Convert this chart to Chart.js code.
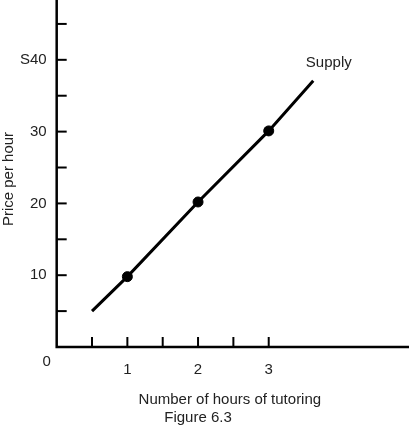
<!DOCTYPE html>
<html><head><script src="https://cdn.jsdelivr.net/npm/chart.js"></script>
<style>body{margin:0;background:#fff}#w{width:409px;height:433px;position:relative}</style></head>
<body><div id="w"><canvas id="c"></canvas></div>
<script>
const hours=[0.5,1,2,3,3.63];
const prices=[5,9.8,20.2,30.1,37.1];
const markedHours=[1,2,3];
const markedPrices=[9.8,20.2,30.1];
const xTickLabels={1:'1',2:'2',3:'3'};
const yTickLabels={10:'10',20:'20',30:'30',40:'S40'};
const F='"Liberation Sans", Arial, sans-serif';
const plugin={id:'extra',afterDraw(ch){const c=ch.ctx,x=ch.scales.x,y=ch.scales.y;
c.save();c.strokeStyle='#000';c.lineWidth=2.5;
c.beginPath();c.moveTo(x.left,0);c.lineTo(x.left,y.bottom);c.lineTo(409,y.bottom);c.stroke();
c.lineWidth=2;
for(let v=5;v<=45;v+=5){const p=y.getPixelForValue(v);c.beginPath();c.moveTo(x.left,p);c.lineTo(x.left+10,p);c.stroke();}
for(let v=0.5;v<=3;v+=0.5){const p=x.getPixelForValue(v);c.beginPath();c.moveTo(p,y.bottom);c.lineTo(p,y.bottom-10);c.stroke();}
c.fillStyle='#222';c.font='15px '+F;c.textAlign='center';c.textBaseline='middle';
c.fillText('Supply',x.getPixelForValue(3.85),y.getPixelForValue(39.6));
c.fillText('0',x.left-10,y.bottom+15);
c.fillText('Figure 6.3',x.getPixelForValue(2),418);
c.restore();}};
new Chart(document.getElementById('c'),{type:'scatter',
data:{datasets:[{data:hours.map((h,i)=>({x:h,y:prices[i]})),showLine:true,borderColor:'#000',borderWidth:3,pointRadius:0},
{data:markedHours.map((h,i)=>({x:h,y:markedPrices[i]})),pointRadius:5,pointBackgroundColor:'#000',pointBorderColor:'#000'}]},
options:{responsive:true,maintainAspectRatio:false,animation:false,
layout:{padding:{top:0,right:0,bottom:20,left:0}},
plugins:{legend:{display:false},tooltip:{enabled:false}},
scales:{x:{type:'linear',min:0,max:4.9,grid:{display:false},border:{display:false},
 afterBuildTicks(a){a.ticks=[1,2,3].map(v=>({value:v}));},
 ticks:{color:'#222',font:{family:F,size:15},padding:6,callback:v=>xTickLabels[v]||''},
 title:{display:true,text:'Number of hours of tutoring',color:'#222',font:{family:F,size:15},padding:{top:6}}},
y:{type:'linear',min:0,max:46.8,grid:{display:false},border:{display:false},
 afterBuildTicks(a){a.ticks=[10,20,30,40].map(v=>({value:v}));},
 ticks:{color:'#222',font:{family:F,size:15},padding:2,callback:v=>yTickLabels[v]||''},
 title:{display:true,text:'Price per hour',color:'#222',font:{family:F,size:15},padding:{top:0,bottom:0}}}}},
plugins:[plugin]});
</script></body></html>
